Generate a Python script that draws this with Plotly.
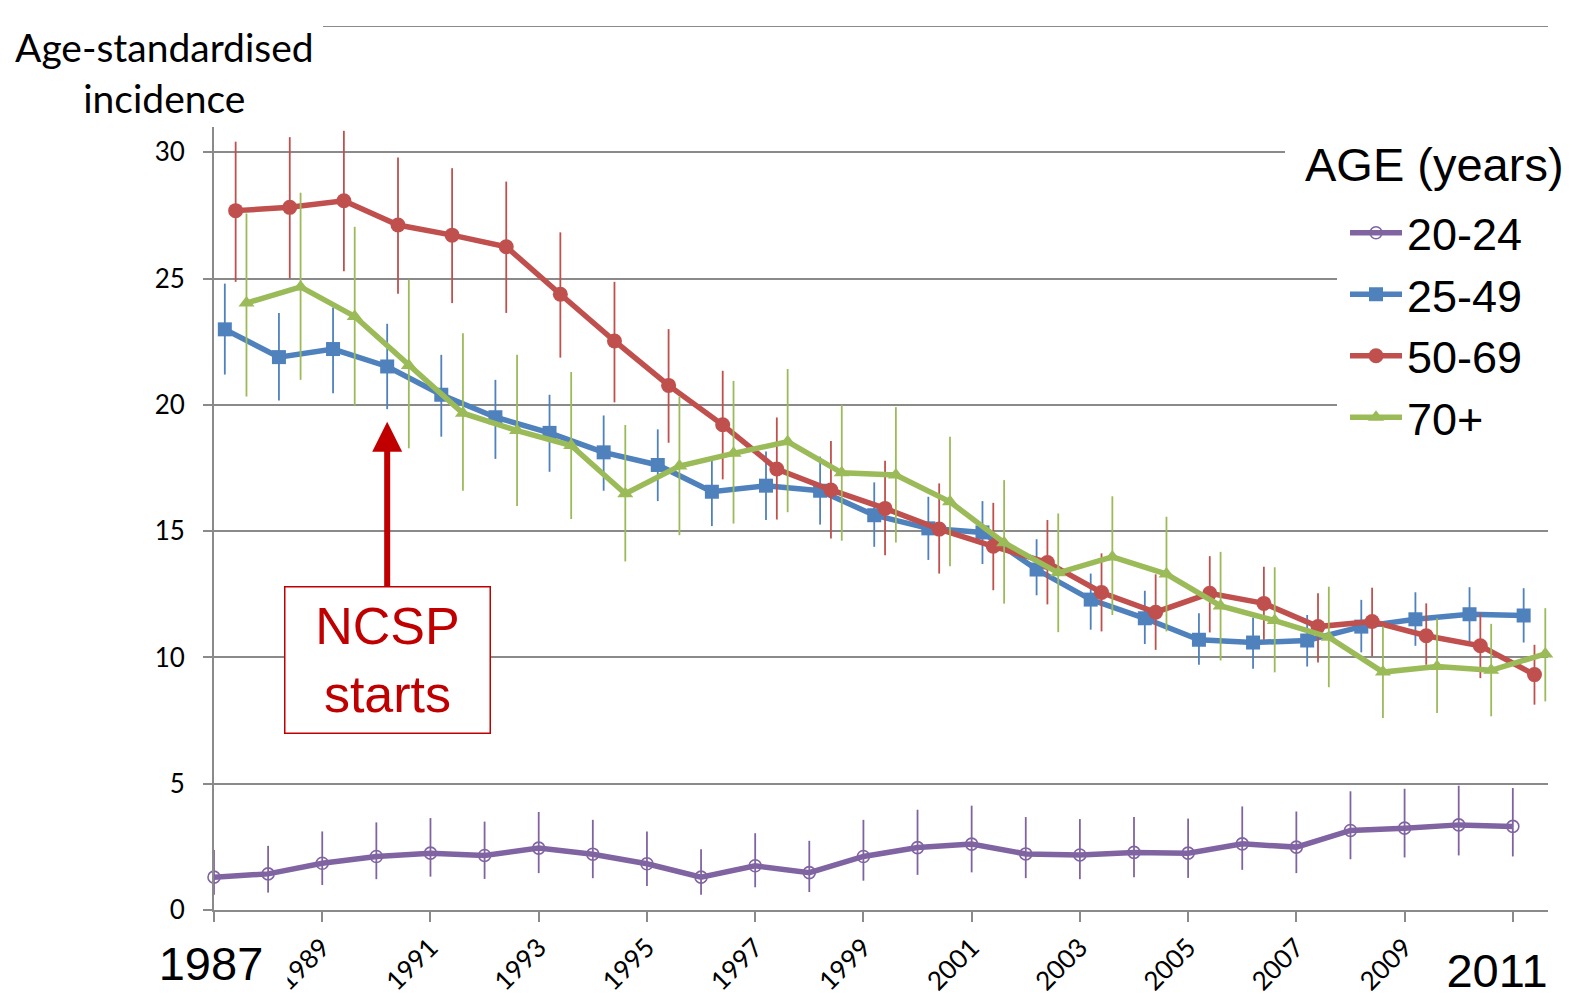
import plotly.graph_objects as go

# ---------------- data ----------------
years = list(range(1987, 2012))
tick_years = list(range(1987, 2012, 2))
tick_labels = ["", "1989", "1991", "1993", "1995", "1997", "1999",
               "2001", "2003", "2005", "2007", "2009", ""]
y_ticks = [0, 5, 10, 15, 20, 25, 30]
y_top = 35

series_names = ["20-24", "25-49", "50-69", "70+"]

age_20_24 = [1.30, 1.43, 1.85, 2.12, 2.25, 2.16, 2.45, 2.21, 1.83, 1.30, 1.75, 1.48, 2.12,
             2.47, 2.61, 2.22, 2.18, 2.28, 2.25, 2.62, 2.49, 3.15, 3.24, 3.37, 3.31]
age_20_24_hi = [2.38, 2.54, 3.11, 3.47, 3.64, 3.50, 3.88, 3.57, 3.11, 2.41, 3.04, 2.74, 3.57,
                3.97, 4.13, 3.68, 3.60, 3.68, 3.62, 4.10, 3.90, 4.70, 4.80, 4.92, 4.83]
age_20_24_lo = [0.60, 0.69, 0.99, 1.22, 1.32, 1.23, 1.46, 1.26, 0.95, 0.60, 0.90, 0.71, 1.16,
                1.39, 1.49, 1.26, 1.22, 1.30, 1.27, 1.59, 1.46, 2.01, 2.08, 2.16, 2.12]

age_25_49 = [22.99, 21.89, 22.21, 21.52, 20.40, 19.51, 18.89, 18.12, 17.62, 16.56, 16.80, 16.60, 15.63,
             15.11, 14.95, 13.48, 12.29, 11.55, 10.70, 10.59, 10.67, 11.22, 11.51, 11.71, 11.66]
age_25_49_hi = [24.80, 23.64, 23.85, 23.21, 21.98, 20.99, 20.40, 19.58, 19.03, 17.79, 18.15, 17.95, 16.93,
                16.36, 16.19, 14.68, 13.32, 12.64, 11.75, 11.58, 11.68, 12.28, 12.58, 12.78, 12.74]
age_25_49_lo = [21.20, 20.17, 20.46, 19.83, 18.74, 17.86, 17.35, 16.60, 16.19, 15.20, 15.44, 15.26, 14.38,
                13.86, 13.70, 12.46, 11.10, 10.53, 9.71, 9.55, 9.64, 10.20, 10.46, 10.59, 10.59]

age_50_69 = [27.69, 27.82, 28.08, 27.12, 26.72, 26.26, 24.38, 22.53, 20.77, 19.21, 17.46, 16.63, 15.90,
             15.08, 14.40, 13.76, 12.57, 11.79, 12.54, 12.14, 11.22, 11.42, 10.86, 10.46, 9.32]
age_50_69_hi = [30.42, 30.60, 30.85, 29.79, 29.37, 28.84, 26.83, 24.87, 23.00, 21.35, 19.50, 18.57, 17.79,
                16.89, 16.12, 15.44, 14.12, 13.29, 14.01, 13.59, 12.54, 12.76, 12.14, 11.75, 10.50]
age_50_69_lo = [24.87, 25.00, 25.29, 24.40, 24.03, 23.64, 21.87, 20.10, 18.50, 17.05, 15.46, 14.71, 14.05,
                13.32, 12.66, 12.10, 11.03, 10.30, 10.99, 10.70, 9.80, 10.04, 9.71, 9.18, 8.13]

age_70 = [24.03, 24.67, 23.50, 21.56, 19.67, 18.98, 18.39, 16.48, 17.58, 18.08, 18.54, 17.31, 17.22,
          16.16, 14.54, 13.35, 13.98, 13.30, 12.04, 11.46, 10.80, 9.42, 9.64, 9.49, 10.14]
age_70_hi = [27.58, 28.40, 27.05, 24.96, 22.84, 21.98, 21.30, 19.20, 20.33, 20.95, 21.42, 20.00, 19.91,
             18.74, 17.02, 15.70, 16.38, 15.57, 14.18, 13.57, 12.80, 11.22, 11.55, 11.33, 11.95]
age_70_lo = [20.33, 20.99, 19.97, 18.28, 16.60, 16.00, 15.48, 13.80, 14.84, 15.30, 15.75, 14.62, 14.55,
             13.61, 12.13, 11.00, 11.68, 11.03, 9.88, 9.41, 8.82, 7.60, 7.80, 7.67, 8.26]

# ---------------- styling ----------------
W, H = 1586, 997
L, R, T, B = 214, 38, 26, 87
PW, PH = W - L - R, H - T - B


def xp(px):
    return (px - L) / PW


def yp(py):
    return (H - B - py) / PH


GRID = "#8a8a8a"
NUM_FONT = "Lato"
ARIAL = "Liberation Sans"

styles = [
    dict(name="20-24", y=age_20_24, hi=age_20_24_hi, lo=age_20_24_lo, off=0.0, color="#8064A2",
         marker=dict(symbol="circle-open", size=12, line=dict(width=1.6))),
    dict(name="25-49", y=age_25_49, hi=age_25_49_hi, lo=age_25_49_lo, off=0.2, color="#4F81BD",
         marker=dict(symbol="square", size=14)),
    dict(name="50-69", y=age_50_69, hi=age_50_69_hi, lo=age_50_69_lo, off=0.4, color="#C0504D",
         marker=dict(symbol="circle", size=15)),
    dict(name="70+", y=age_70, hi=age_70_hi, lo=age_70_lo, off=0.6, color="#9BBB59",
         marker=dict(symbol="triangle-up", size=14)),
]

fig = go.Figure()
for s in styles:
    xs = [yr + s["off"] for yr in years]
    plus = [h - v for h, v in zip(s["hi"], s["y"])]
    minus = [v - l for v, l in zip(s["y"], s["lo"])]
    mk = dict(s["marker"])
    mk["color"] = s["color"]
    fig.add_trace(go.Scatter(
        x=xs, y=s["y"], name=s["name"], mode="lines+markers",
        line=dict(color=s["color"], width=5.5),
        marker=mk,
        error_y=dict(type="data", symmetric=False, array=plus, arrayminus=minus,
                     color=s["color"], thickness=1.8, width=0),
        cliponaxis=False,
    ))

fig.update_layout(
    width=W, height=H,
    margin=dict(l=L, r=R, t=T, b=B, pad=0, autoexpand=False),
    paper_bgcolor="white", plot_bgcolor="white",
    showlegend=True,
    legend=dict(
        x=xp(1345), y=yp(197), xanchor="left", yanchor="top",
        bgcolor="rgba(0,0,0,0)", borderwidth=0,
        font=dict(family=ARIAL, size=45, color="black"),
        itemwidth=52,
    ),
    xaxis=dict(
        range=[1987, 2011.65], tickmode="array", tickvals=tick_years, ticktext=tick_labels,
        tickangle=-45, showgrid=False, zeroline=False, automargin=False,
        showline=True, linecolor=GRID, linewidth=2,
        ticks="outside", ticklen=10, tickwidth=2, tickcolor=GRID,
        tickfont=dict(family=NUM_FONT, size=26, color="black"),
        ticklabelstandoff=0,
    ),
    yaxis=dict(
        range=[0, y_top], tickmode="array", tickvals=y_ticks,
        showgrid=True, gridcolor=GRID, gridwidth=2, zeroline=False, automargin=False,
        showline=True, linecolor=GRID, linewidth=2,
        ticks="outside", ticklen=9, tickwidth=2, tickcolor=GRID,
        tickfont=dict(family=NUM_FONT, size=26, color="black"),
        ticklabelstandoff=13,
    ),
)

shapes = [
    # top gridline (value 35), starting right of the axis-title box
    dict(type="line", xref="paper", yref="y", x0=xp(323), x1=1, y0=y_top, y1=y_top,
         line=dict(color=GRID, width=2), layer="below"),
    # white box behind y-axis title (covers top of axis)
    dict(type="rect", xref="paper", yref="paper", x0=xp(0), x1=xp(323), y0=yp(127), y1=yp(0),
         fillcolor="white", line=dict(width=0), layer="above"),
    # white box behind legend title
    dict(type="rect", xref="paper", yref="paper", x0=xp(1285), x1=xp(1586), y0=yp(205), y1=yp(128),
         fillcolor="white", line=dict(width=0), layer="above"),
    # white box behind legend entries
    dict(type="rect", xref="paper", yref="paper", x0=xp(1337), x1=xp(1586), y0=yp(440), y1=yp(204),
         fillcolor="white", line=dict(width=0), layer="above"),
]
fig.update_layout(shapes=shapes)

annotations = [
    dict(text="Age-standardised<br>incidence", xref="paper", yref="paper",
         x=xp(164), y=yp(72), xanchor="center", yanchor="middle", showarrow=False,
         font=dict(family="Lato", size=39, color="black")),
    dict(text="AGE (years)", xref="paper", yref="paper",
         x=xp(1303), y=yp(164), xanchor="left", yanchor="middle", showarrow=False,
         font=dict(family=ARIAL, size=47, color="black")),
    dict(text="1987", xref="paper", yref="paper", x=xp(211), y=yp(963),
         xanchor="center", yanchor="middle", showarrow=False, bgcolor="white",
         width=150, height=58, font=dict(family=ARIAL, size=47, color="black")),
    dict(text="2011", xref="paper", yref="paper", x=xp(1497), y=yp(970),
         xanchor="center", yanchor="middle", showarrow=False, bgcolor="white",
         width=112, height=58, font=dict(family=ARIAL, size=47, color="black")),
    dict(text="NCSP<br>starts", xref="x", yref="y", x=1990.2, y=19.33,
         ax=0, ay=238, showarrow=True, arrowhead=2, arrowsize=1, arrowwidth=6,
         arrowcolor="#C00000", standoff=0,
         bgcolor="white", bordercolor="#C00000", borderwidth=1.5, borderpad=0,
         width=204, height=145,
         font=dict(family=ARIAL, size=52, color="#C00000")),
]
fig.update_layout(annotations=annotations)

fig.write_html("out.html", config={"displayModeBar": False},
               post_script="document.body.style.margin='0';document.body.style.overflow='hidden';")
